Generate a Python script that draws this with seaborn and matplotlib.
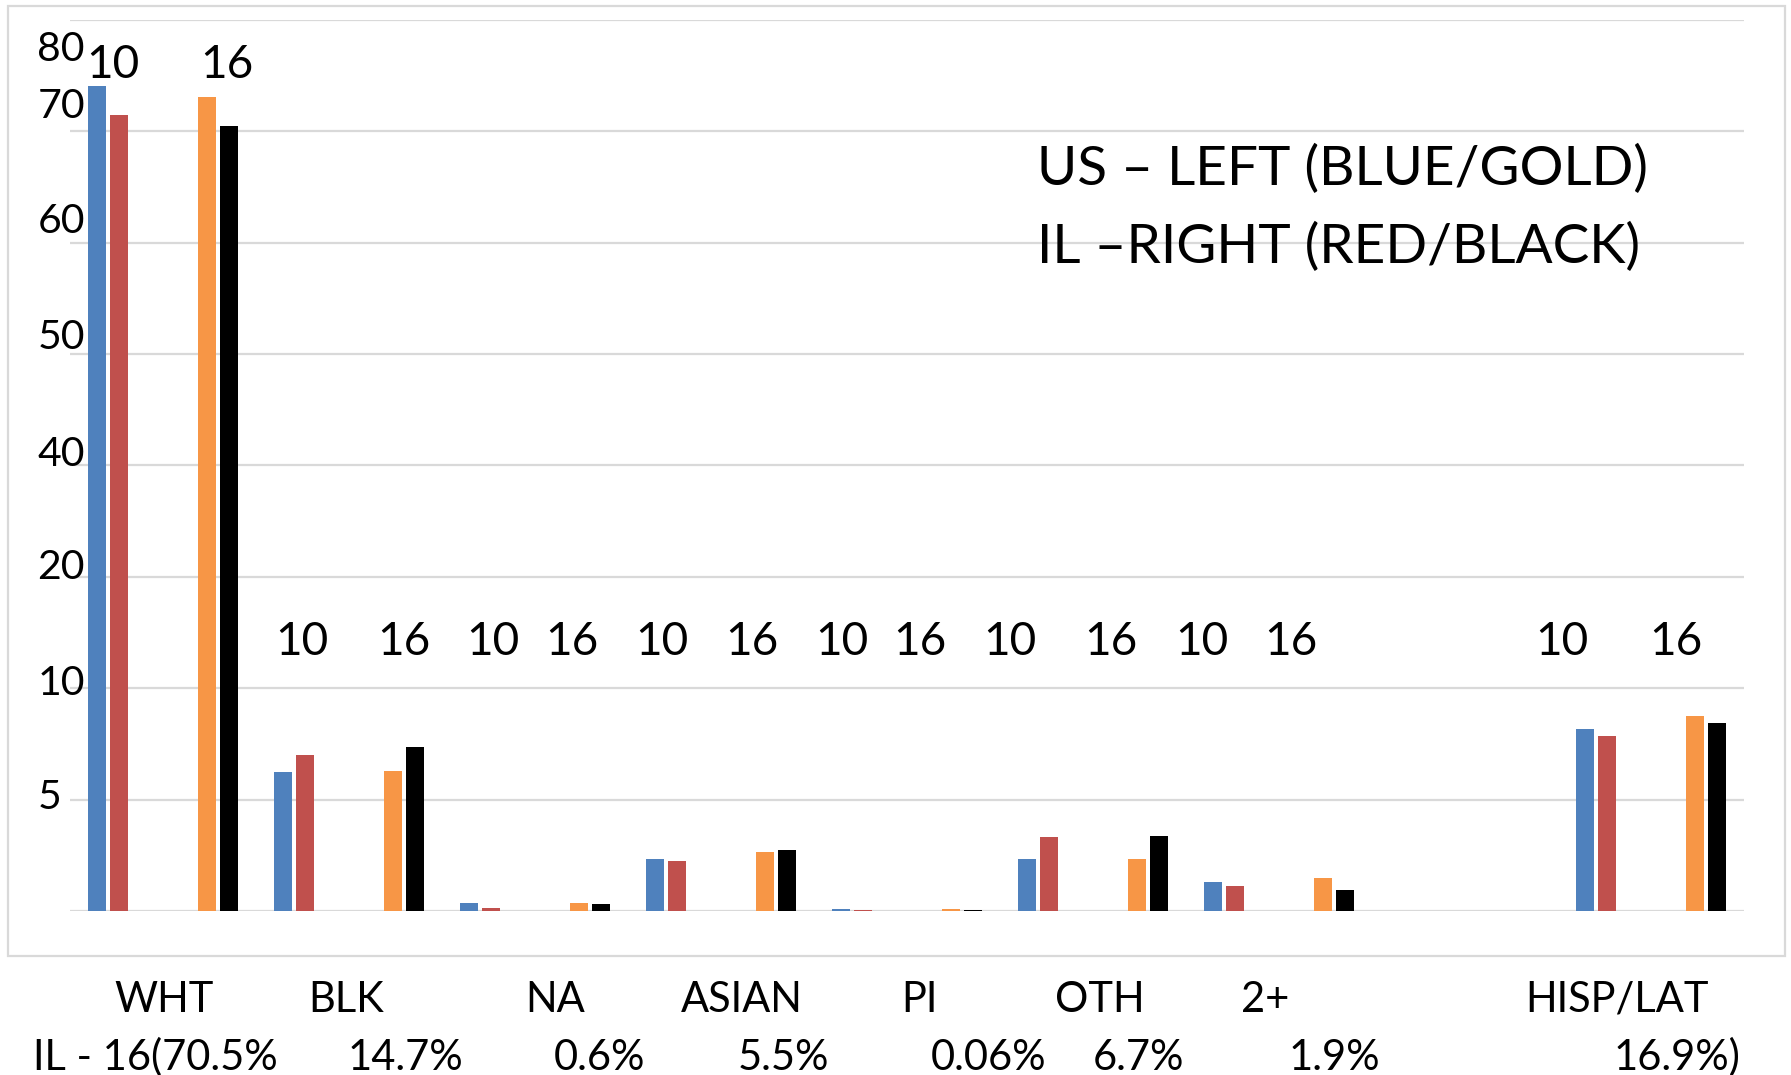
import pandas as pd
import matplotlib.pyplot as plt
import matplotlib.transforms as mtransforms
from matplotlib.patches import Rectangle
import seaborn as sns

# race groups (empty slot between 2+ and HISP/LAT, as in the original sheet)
categories = ['WHT', 'BLK', 'NA', 'ASIAN', 'PI', 'OTH', '2+', '', 'HISP/LAT']
us_10 = [74.1, 12.5, 0.7, 4.7, 0.15, 4.7, 2.6, None, 16.3]
il_10 = [71.5, 14.0, 0.3, 4.5, 0.05, 6.6, 2.2, None, 15.7]
us_16 = [73.1, 12.6, 0.7, 5.3, 0.15, 4.7, 3.0, None, 17.5]
il_16 = [70.5, 14.7, 0.6, 5.5, 0.06, 6.7, 1.9, None, 16.9]

il16_pct = ['IL - 16(70.5%', '14.7%', '0.6%', '5.5%', '0.06%', '6.7%', '1.9%', '16.9%)']
axis_labels = ['80', '70', '60', '50', '40', '20', '10', '5']

series_order = ['US 10', 'IL 10', 'gap1', 'gap2', 'gap3', 'US 16', 'IL 16']
palette = {'US 10': '#4F81BD', 'IL 10': '#C0504D', 'gap1': 'white', 'gap2': 'white',
           'gap3': 'white', 'US 16': '#F79646', 'IL 16': '#000000'}


def build_frame():
    rows = []
    for name, vals in [('US 10', us_10), ('IL 10', il_10), ('US 16', us_16), ('IL 16', il_16)]:
        for race, v in zip(categories, vals):
            if v is not None:
                rows.append({'race': race, 'series': name, 'pct': v})
    return pd.DataFrame(rows)


def main():
    sns.set_theme(style='white')
    plt.rcParams['font.family'] = ['Lato', 'DejaVu Sans']
    plt.rcParams['text.color'] = 'black'

    df = build_frame()
    fig, ax = plt.subplots(figsize=(17.91, 10.75), dpi=100)
    fig.subplots_adjust(left=70 / 1791, right=1744 / 1791, bottom=1 - 911 / 1075, top=1 - 20 / 1075)

    sns.barplot(data=df, x='race', y='pct', hue='series', order=categories,
                hue_order=series_order, palette=palette, width=0.828, gap=0.2,
                saturation=1, errorbar=None, legend=False, linewidth=0, ax=ax)

    ax.set_xlim(-0.5, 8.5)
    ax.set_ylim(0, 80)
    ax.set_yticks(range(0, 90, 10))
    ax.set_yticklabels([])
    ax.set_xticks([])
    ax.tick_params(length=0)
    ax.grid(axis='y', color='#d9d9d9', lw=1.6)
    ax.set_axisbelow(True)
    ax.set_xlabel('')
    ax.set_ylabel('')
    sns.despine(ax=ax, left=True, bottom=True)

    # hand-placed axis labels, as typed on the original
    label_base = [76.3, 71.2, 60.9, 50.5, 40.0, 29.8, 19.4, 9.2]
    ytr = mtransforms.blended_transform_factory(ax.transAxes, ax.transData)
    for txt, yb in zip(axis_labels, label_base):
        ax.text(-0.0195, yb, txt, transform=ytr, ha='left', va='baseline',
                fontsize=29.5, color='black', clip_on=False)

    # year markers over each pair
    x10 = [-0.269, 0.747, 1.774, 2.683, 3.651, 4.552, 5.584, 7.518]
    x16 = [0.344, 1.296, 2.199, 3.167, 4.067, 5.097, 6.063, 8.132]
    for i, (a, b) in enumerate(zip(x10, x16)):
        yb = 74.8 if i == 0 else 23.0
        ax.text(a, yb, '10', ha='center', va='baseline', fontsize=33, color='black')
        ax.text(b, yb, '16', ha='center', va='baseline', fontsize=33, color='black')

    ax.text(4.699, 65.2, 'US – LEFT (BLUE/GOLD)', ha='left', va='baseline', fontsize=39.5, color='black')
    ax.text(4.699, 58.2, 'IL –RIGHT (RED/BLACK)', ha='left', va='baseline', fontsize=39.5, color='black')

    # race names and IL 2016 shares below the chart box
    btr = mtransforms.blended_transform_factory(ax.transData, fig.transFigure)
    race_x = [0.008, 0.984, 2.108, 3.113, 4.067, 5.038, 5.928, 7.817]
    pct_x = [-0.043, 1.304, 2.349, 3.337, 4.441, 5.247, 6.296, 8.140]
    races = [c for c in categories if c]
    for xr, name in zip(race_x, races):
        fig.text(xr, 1 - 1012 / 1075, name, transform=btr, ha='center', va='baseline',
                 fontsize=30, color='black')
    for xp, p in zip(pct_x, il16_pct):
        fig.text(xp, 1 - 1070 / 1075, p, transform=btr, ha='center', va='baseline',
                 fontsize=30, color='black')

    fig.patches.append(Rectangle((8 / 1791, 1 - 956 / 1075), 1777 / 1791, 950 / 1075,
                                 transform=fig.transFigure, fill=False,
                                 edgecolor='#d9d9d9', lw=1.6))

    fig.savefig('out.png', dpi=100)


if __name__ == '__main__':
    main()
